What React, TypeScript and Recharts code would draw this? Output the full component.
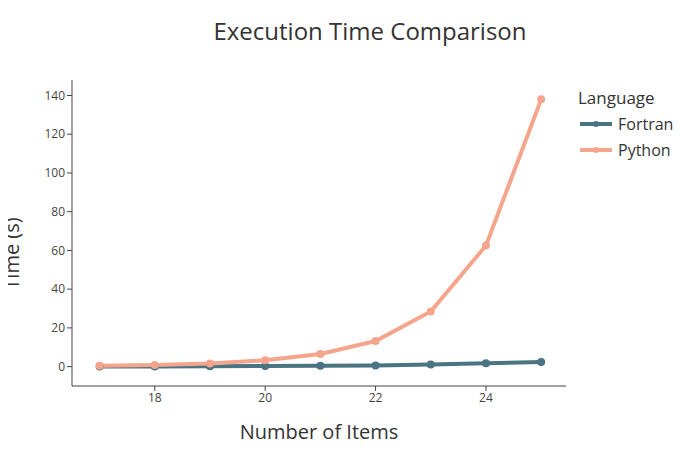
import React from "react";
import { LineChart, Line, XAxis, YAxis } from "recharts";

const items = [17, 18, 19, 20, 21, 22, 23, 24, 25];
const fortran = [0.05, 0.1, 0.2, 0.3, 0.4, 0.6, 1.1, 1.7, 2.4];
const python = [0.4, 0.8, 1.6, 3.3, 6.5, 13.2, 28.5, 62.5, 138];
const xTicks = [18, 20, 22, 24];
const yTicks = [0, 20, 40, 60, 80, 100, 120, 140];

const data = items.map((n, i) => ({ n, Fortran: fortran[i], Python: python[i] }));
const F = "#4a7482";
const P = "#f5a58c";

const LegendBox = () => (
  <div style={{ fontFamily: "'Open Sans', sans-serif", color: "#333", lineHeight: "26px" }}>
    <div style={{ fontSize: 17 }}>Language</div>
    {[["Fortran", F], ["Python", P]].map(([n, c]) => (
      <div key={n} style={{ display: "flex", alignItems: "center", fontSize: 16 }}>
        <svg width={36} height={12} style={{ marginRight: 4 }}>
          <line x1={2} y1={6} x2={34} y2={6} stroke={c} strokeWidth={4} />
          <circle cx={18} cy={6} r={3} fill={c} />
        </svg>
        {n}
      </div>
    ))}
  </div>
);

export default function App() {
  return (
    <div style={{ position: "relative", width: 700, height: 450, fontFamily: "'Open Sans', sans-serif" }}>
      <div style={{ position: "absolute", top: 6, left: 0, width: 724, textAlign: "center", fontSize: 24, color: "#333" }}>
        Execution Time Comparison
      </div>
      <div style={{ position: "absolute", top: 410, left: 64, width: 494, textAlign: "center", fontSize: 20, color: "#333" }}>
        Number of Items
      </div>
      <div style={{ position: "absolute", left: -37, top: 232, width: 80, textAlign: "center", fontSize: 20, color: "#333", transform: "rotate(-90deg)" }}>
        Time (s)
      </div>
      <div style={{ position: "absolute", left: 570, top: 77 }}>
        <LegendBox />
      </div>
      <LineChart width={700} height={450} data={data} margin={{ top: 72, right: 142, bottom: 42, left: 34 }}>
        <XAxis dataKey="n" type="number" domain={[16.5, 25.45]} ticks={xTicks} height={30}
          tick={{ fontSize: 12, fill: "#444" }} stroke="#444" tickSize={5} />
        <YAxis type="number" domain={[-10, 148]} ticks={yTicks} width={30}
          tick={{ fontSize: 12, fill: "#444" }} stroke="#444" tickSize={5} />
        <Line dataKey="Fortran" stroke={F} strokeWidth={4} dot={{ r: 2, fill: F, stroke: F }} isAnimationActive={false} />
        <Line dataKey="Python" stroke={P} strokeWidth={4} dot={{ r: 2, fill: P, stroke: P }} isAnimationActive={false} />
      </LineChart>
    </div>
  );
}
